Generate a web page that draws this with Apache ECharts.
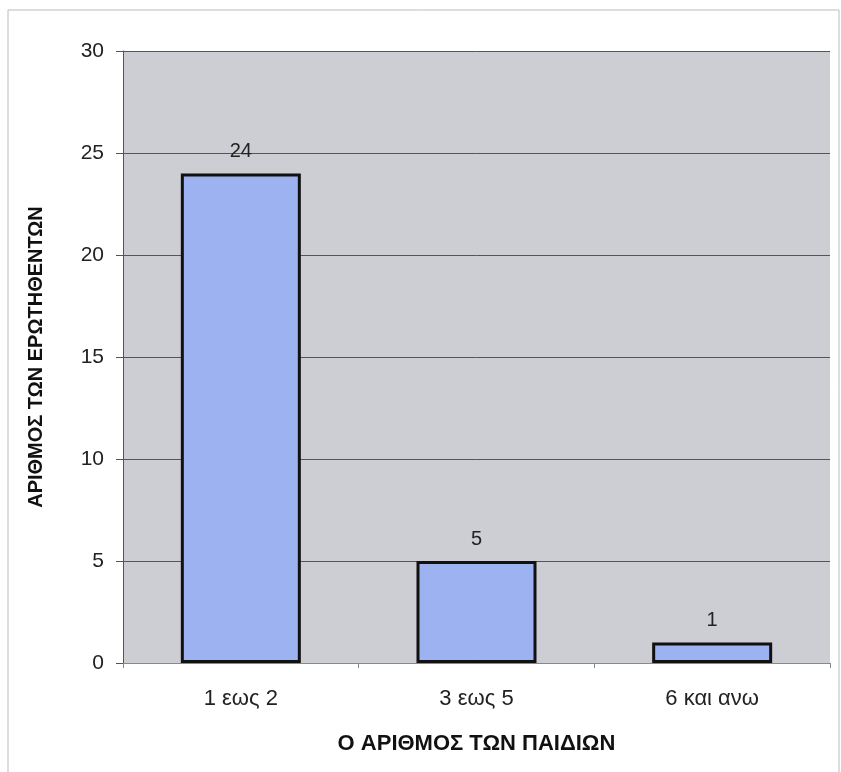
<!DOCTYPE html>
<html><head><meta charset="utf-8">
<script src="https://cdn.jsdelivr.net/npm/echarts@6/dist/echarts.min.js"></script>
<style>html,body{margin:0;padding:0;background:#fff}#c{width:841px;height:772px}</style>
</head><body><div id="c"></div>
<script>
const categories = ['1 εως 2', '3 εως 5', '6 και ανω'];
const values = [24, 5, 1];
const yTicks = [0, 5, 10, 15, 20, 25, 30];
const xTitle = 'Ο ΑΡΙΘΜΟΣ ΤΩΝ ΠΑΙΔΙΩΝ';
const yTitle = 'ΑΡΙΘΜΟΣ ΤΩΝ ΕΡΩΤΗΘΕΝΤΩΝ';

const chart = echarts.init(document.getElementById('c'));
const font = '"Liberation Sans", Arial, sans-serif';
chart.setOption({
  animation: false,
  backgroundColor: '#fff',
  graphic: [{
    type: 'rect', shape: {x: 8, y: 10, width: 831, height: 770},
    style: {fill: 'none', stroke: '#bbb', lineWidth: 1}, silent: true
  }],
  grid: {left: 123, right: 11, top: 51, bottom: 109, backgroundColor: '#cdcdd4', show: true, borderWidth: 0},
  xAxis: {
    type: 'category', data: categories,
    axisLine: {show: true, lineStyle: {color: '#888', width: 1}},
    axisTick: {show: true, alignWithLabel: false, length: 5, lineStyle: {color: '#888'}},
    axisLabel: {color: '#222', fontSize: 22, fontFamily: font, margin: 25},
    name: xTitle, nameLocation: 'middle', nameGap: 70,
    nameTextStyle: {color: '#111', fontSize: 22, fontWeight: 'bold', fontFamily: font}
  },
  yAxis: {
    type: 'value', min: yTicks[0], max: yTicks[yTicks.length - 1], interval: 5,
    axisLine: {show: true, lineStyle: {color: '#555', width: 1}},
    axisTick: {show: true, length: 7, lineStyle: {color: '#555'}},
    axisLabel: {color: '#222', fontSize: 21, fontFamily: font, margin: 19},
    splitLine: {show: true, lineStyle: {color: '#555', width: 1}},
    name: yTitle, nameLocation: 'middle', nameGap: 77, nameRotate: 90,
    nameTextStyle: {color: '#111', fontSize: 20, fontWeight: 'bold', fontFamily: font}
  },
  series: [{
    type: 'bar', data: values, barWidth: 120,
    itemStyle: {color: '#9db2f0', borderColor: '#111', borderWidth: 3},
    label: {show: true, position: 'top', distance: 12, color: '#222', fontSize: 20, fontFamily: font}
  }]
});
</script></body></html>
